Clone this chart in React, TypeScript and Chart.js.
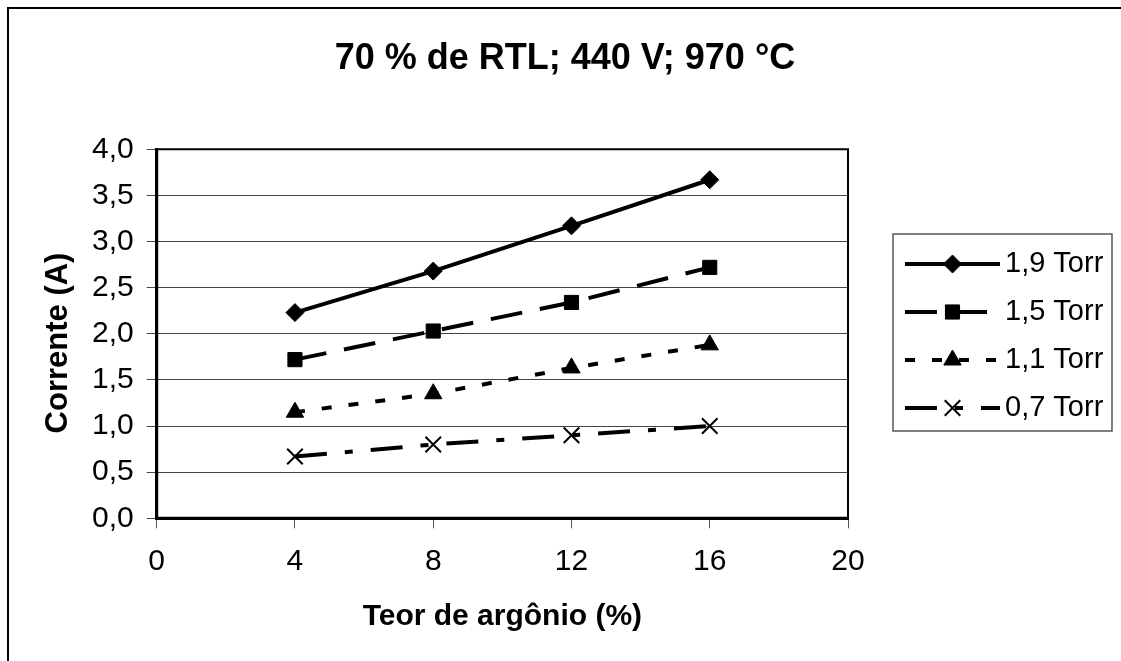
import React, { useEffect, useRef } from 'react';
import { Chart, registerables } from 'chart.js';
import { drawPoint } from 'chart.js/helpers';

Chart.register(...registerables);

const chartTitle = '70 % de RTL; 440 V; 970 °C';
const xAxisTitle = 'Teor de argônio (%)';
const yAxisTitle = 'Corrente (A)';

const argonContent = [4, 8, 12, 16];
const seriesLabels = ['1,9 Torr', '1,5 Torr', '1,1 Torr', '0,7 Torr'];
const torr19 = [2.23, 2.68, 3.17, 3.67];
const torr15 = [1.72, 2.03, 2.34, 2.72];
const torr11 = [1.15, 1.35, 1.63, 1.88];
const torr07 = [0.67, 0.8, 0.9, 1.0];

const xTickValues = [0, 4, 8, 12, 16, 20];
const yTickValues = [0, 0.5, 1, 1.5, 2, 2.5, 3, 3.5, 4];
const yTickLabels = ['0,0', '0,5', '1,0', '1,5', '2,0', '2,5', '3,0', '3,5', '4,0'];

const FONT = '"Liberation Sans", Arial, sans-serif';

const CANVAS_W = 1112;
const CANVAS_H = 652;

const toPoints = (vals: number[]) => argonContent.map((x, i) => ({ x, y: vals[i] }));

const plotFramePlugin = {
  id: 'plotFrame',
  afterDatasetsDraw(chart: any) {
    const { ctx, chartArea } = chart;
    const { left, top, right, bottom } = chartArea;
    ctx.save();
    ctx.strokeStyle = '#000';
    ctx.lineWidth = 2;
    ctx.beginPath();
    ctx.moveTo(left, top);
    ctx.lineTo(right, top);
    ctx.lineTo(right, bottom);
    ctx.stroke();
    ctx.lineWidth = 3;
    ctx.beginPath();
    ctx.moveTo(left, top);
    ctx.lineTo(left, bottom);
    ctx.lineTo(right, bottom);
    ctx.stroke();
    ctx.restore();
  },
};

const yTitlePlugin = {
  id: 'yTitle',
  afterDraw(chart: any) {
    const ctx = chart.ctx;
    ctx.save();
    ctx.translate(49, 334);
    ctx.rotate(-Math.PI / 2);
    ctx.font = `bold 31px ${FONT}`;
    ctx.fillStyle = '#000';
    ctx.textAlign = 'center';
    ctx.textBaseline = 'middle';
    ctx.fillText(yAxisTitle, 0, 0);
    ctx.restore();
  },
};

const legendPlugin = {
  id: 'customLegend',
  afterDraw(chart: any) {
    const ctx = chart.ctx;
    const boxL = 884, boxT = 225, boxR = 1103, boxB = 422;
    const rowY = [255, 303, 351, 399];
    ctx.save();
    ctx.strokeStyle = '#555';
    ctx.lineWidth = 1.5;
    ctx.strokeRect(boxL, boxT, boxR - boxL, boxB - boxT);
    chart.data.datasets.forEach((ds: any, i: number) => {
      const y = rowY[i];
      ctx.beginPath();
      ctx.setLineDash(ds.borderDash || []);
      ctx.lineWidth = ds.borderWidth;
      ctx.strokeStyle = '#000';
      ctx.moveTo(896, y);
      ctx.lineTo(991, y);
      ctx.stroke();
      ctx.setLineDash([]);
      ctx.fillStyle = '#000';
      ctx.strokeStyle = '#000';
      ctx.lineWidth = ds.pointBorderWidth;
      drawPoint(ctx, { pointStyle: ds.pointStyle, radius: ds.pointRadius, borderWidth: ds.pointBorderWidth, rotation: 0 } as any, 943.5, y);
      ctx.font = `29px ${FONT}`;
      ctx.textBaseline = 'middle';
      ctx.textAlign = 'left';
      ctx.fillStyle = '#000';
      ctx.fillText(ds.label, 996, y);
    });
    ctx.restore();
  },
};

export default function App() {
  const canvasRef = useRef<HTMLCanvasElement | null>(null);

  useEffect(() => {
    document.body.style.margin = '0';
    document.body.style.overflow = 'hidden';
    document.documentElement.style.overflow = 'hidden';
    const canvas = canvasRef.current;
    if (!canvas) return;

    const common = {
      borderColor: '#000',
      backgroundColor: '#000',
      pointBackgroundColor: '#000',
      pointBorderColor: '#000',
      borderWidth: 4,
      tension: 0,
      fill: false,
    };

    const chart = new Chart(canvas, {
      type: 'line',
      data: {
        datasets: [
          { ...common, label: seriesLabels[0], data: toPoints(torr19), borderDash: [], pointStyle: 'rectRot', pointRadius: 9, pointBorderWidth: 1 },
          { ...common, label: seriesLabels[1], data: toPoints(torr15), borderDash: [32, 18], pointStyle: 'rect', pointRadius: 10, pointBorderWidth: 1 },
          { ...common, label: seriesLabels[2], data: toPoints(torr11), borderDash: [10, 17], pointStyle: 'triangle', pointRadius: 10, pointBorderWidth: 1 },
          { ...common, label: seriesLabels[3], data: toPoints(torr07), borderDash: [32, 18, 8, 18], pointStyle: 'crossRot', pointRadius: 11, pointBorderWidth: 2 },
        ] as any,
      },
      options: {
        responsive: false,
        animation: false,
        devicePixelRatio: 1,
        layout: { padding: 0 },
        plugins: {
          legend: { display: false },
          tooltip: { enabled: false },
          title: {
            display: true,
            text: chartTitle,
            color: '#000',
            font: { family: FONT, size: 36, weight: 'bold', lineHeight: 1.2 },
            padding: { top: 28, bottom: 69.1 },
          },
        },
        scales: {
          x: {
            type: 'linear',
            min: 0,
            max: 20,
            afterBuildTicks: (scale: any) => {
              scale.ticks = xTickValues.map((v) => ({ value: v }));
            },
            afterFit: (scale: any) => {
              scale.height = 142.7;
            },
            ticks: {
              color: '#000',
              font: { family: FONT, size: 30, lineHeight: 1.2 },
              padding: 15,
              maxRotation: 0,
              callback: (v: any) => String(v),
            },
            grid: { drawOnChartArea: false, drawTicks: true, tickLength: 10, color: '#555', lineWidth: 1 },
            border: { display: true, color: '#000', width: 3 },
            title: {
              display: true,
              text: xAxisTitle,
              color: '#000',
              font: { family: FONT, size: 30, weight: 'bold', lineHeight: 1.2 },
              padding: { top: 0, bottom: 26 },
            },
          },
          y: {
            type: 'linear',
            min: 0,
            max: 4,
            afterBuildTicks: (scale: any) => {
              scale.ticks = yTickValues.map((v) => ({ value: v }));
            },
            afterFit: (scale: any) => {
              scale.width = 147.7;
            },
            ticks: {
              color: '#000',
              font: { family: FONT, size: 30, lineHeight: 1.2 },
              padding: 13,
              callback: (v: any) => {
                const idx = yTickValues.indexOf(Number(v));
                return idx >= 0 ? yTickLabels[idx] : '';
              },
            },
            grid: { drawOnChartArea: true, drawTicks: true, tickLength: 10, color: '#444', lineWidth: 1 },
            border: { display: true, color: '#000', width: 3 },
            title: { display: false },
          },
          ySpace: {
            type: 'linear',
            position: 'right',
            display: true,
            min: 0,
            max: 4,
            afterFit: (scale: any) => {
              scale.width = 273;
            },
            ticks: { display: false },
            grid: { display: false, drawTicks: false },
            border: { display: false },
            title: { display: false },
          },
        },
      },
      plugins: [plotFramePlugin, yTitlePlugin, legendPlugin],
    } as any);

    return () => {
      chart.destroy();
    };
  }, []);

  return (
    <div
      style={{
        position: 'absolute',
        left: 7,
        top: 7,
        width: CANVAS_W,
        height: CANVAS_H,
        borderTop: '2px solid #000',
        borderLeft: '2px solid #000',
        background: '#fff',
      }}
    >
      <canvas ref={canvasRef} width={CANVAS_W} height={CANVAS_H} style={{ display: 'block', width: CANVAS_W, height: CANVAS_H }} />
    </div>
  );
}
